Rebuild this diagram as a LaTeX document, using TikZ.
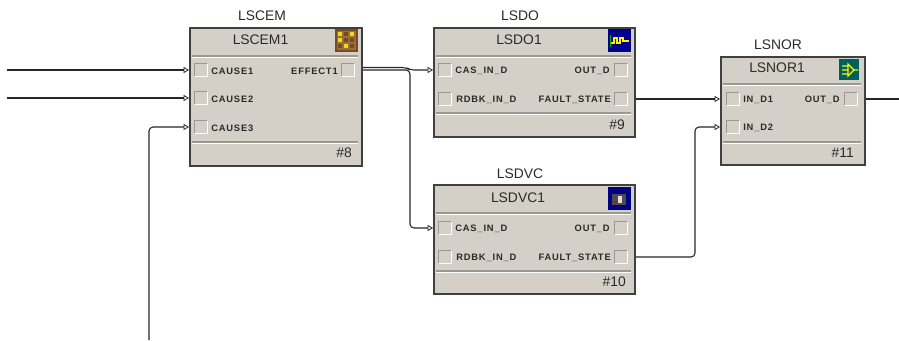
\documentclass[tikz,border=0pt]{standalone}
\usepackage{fontspec}
\setmainfont{Liberation Sans}
\usetikzlibrary{arrows.meta,calc}
\definecolor{panel}{HTML}{D4D0C8}
\definecolor{edgec}{HTML}{404040}
\definecolor{groove}{HTML}{9A9890}
\definecolor{txt}{HTML}{2A2A2A}
\tikzset{
  x=0.75pt,y=-0.75pt,
  blockbox/.style={draw=edgec,line width=1.5pt,fill=panel,inner sep=0pt,anchor=north west},
  typelabel/.style={font=\fontsize{10.4pt}{11pt}\selectfont,text=txt,inner sep=0pt},
  namelabel/.style={font=\fontsize{10.4pt}{11pt}\selectfont,text=txt,inner sep=0pt},
  portlabel/.style={font=\fontsize{7pt}{8pt}\selectfont\addfontfeature{LetterSpace=9}\bfseries,text=txt,inner sep=0pt},
  numlabel/.style={font=\fontsize{10.4pt}{11pt}\selectfont,text=txt,inner sep=0pt,anchor=east},
  portbox/.style={minimum size=9pt,inner sep=0pt,fill=panel},
  wire/.style={draw=black!85,line width=0.8pt,rounded corners=3pt},
  inwire/.style={wire,-{Triangle[open,length=4pt,width=4.5pt,line width=0.6pt]}},
}
% bevelled check box, centred at a named node
\newcommand{\portbevel}[1]{%
  \draw[groove,line width=.8pt] (#1.south west)--(#1.north west)--(#1.north east);
  \draw[white,line width=.8pt] (#1.south west)--(#1.south east)--(#1.north east);}
% groove lines across a block
\newcommand{\groovelines}[3]{%
  \draw[groove,line width=.8pt] (#1+3,#3)--(#2-3,#3);
  \draw[white,line width=.8pt] (#1+3,#3+1.2)--(#2-3,#3+1.2);}
\begin{document}
\begin{tikzpicture}
\useasboundingbox (0,0) rectangle (899,340);
% ---------- blocks
\node[blockbox,minimum width=129pt,minimum height=103.5pt] (lscem) at (189,27) {};
\node[blockbox,minimum width=150.75pt,minimum height=81.75pt] (lsdo) at (433,27) {};
\node[blockbox,minimum width=150.75pt,minimum height=81.75pt] (lsdvc) at (433,184) {};
\node[blockbox,minimum width=108pt,minimum height=81pt] (lsnor) at (720,56) {};
\groovelines{189}{361}{56}\groovelines{189}{361}{142}
\groovelines{433}{634}{56}\groovelines{433}{634}{113}
\groovelines{433}{634}{213}\groovelines{433}{634}{271}
\groovelines{720}{864}{84}\groovelines{720}{864}{142}
% ---------- titles
\node[typelabel] (tcem) at (262,16) {LSCEM};
\node[typelabel] (tdo) at (520,16) {LSDO};
\node[typelabel] (tdvc) at (520,174) {LSDVC};
\node[typelabel] (tnor) at (778,45) {LSNOR};
\node[namelabel] (ncem) at (260.5,40) {LSCEM1};
\node[namelabel] (ndo) at (519,40) {LSDO1};
\node[namelabel] (ndvc) at (518,198) {LSDVC1};
\node[namelabel] (nnor) at (777,68) {LSNOR1};
\node[numlabel] (ncemn) at (352,153) {\#8};
\node[numlabel] (ndon) at (625,125) {\#9};
\node[numlabel] (ndvcn) at (626,282) {\#10};
\node[numlabel] (nnorn) at (854,153) {\#11};
% ---------- ports: LSCEM
\node[portbox] (c1) at (201,70) {};\portbevel{c1}
\node[portbox] (c2) at (201,98) {};\portbevel{c2}
\node[portbox] (c3) at (201,127) {};\portbevel{c3}
\node[portbox] (e1) at (348,70) {};\portbevel{e1}
\node[portlabel,anchor=west] (lc1) at (211,71) {CAUSE1};
\node[portlabel,anchor=west] (lc2) at (211,99) {CAUSE2};
\node[portlabel,anchor=west] (lc3) at (211,128) {CAUSE3};
\node[portlabel,anchor=east] (le1) at (338,71) {EFFECT1};
% ---------- ports: LSDO
\node[portbox] (doa) at (445,70) {};\portbevel{doa}
\node[portbox] (dob) at (445,99) {};\portbevel{dob}
\node[portbox] (doc) at (621,70) {};\portbevel{doc}
\node[portbox] (dod) at (621,99) {};\portbevel{dod}
\node[portlabel,anchor=west] (ldoa) at (455,71) {CAS\_IN\_D};
\node[portlabel,anchor=west] (ldob) at (456,100) {RDBK\_IN\_D};
\node[portlabel,anchor=east] (ldoc) at (610,71) {OUT\_D};
\node[portlabel,anchor=east] (ldod) at (611,100) {FAULT\_STATE};
% ---------- ports: LSDVC
\node[portbox] (vca) at (445,228) {};\portbevel{vca}
\node[portbox] (vcb) at (445,257) {};\portbevel{vcb}
\node[portbox] (vcc) at (621,228) {};\portbevel{vcc}
\node[portbox] (vcd) at (621,257) {};\portbevel{vcd}
\node[portlabel,anchor=west] (lvca) at (455,229) {CAS\_IN\_D};
\node[portlabel,anchor=west] (lvcb) at (456,258) {RDBK\_IN\_D};
\node[portlabel,anchor=east] (lvcc) at (610,229) {OUT\_D};
\node[portlabel,anchor=east] (lvcd) at (611,258) {FAULT\_STATE};
% ---------- ports: LSNOR
\node[portbox] (na) at (733,99) {};\portbevel{na}
\node[portbox] (nb) at (733,127) {};\portbevel{nb}
\node[portbox] (nc) at (851,99) {};\portbevel{nc}
\node[portlabel,anchor=west] (lna) at (743,100) {IN\_D1};
\node[portlabel,anchor=west] (lnb) at (743,128) {IN\_D2};
\node[portlabel,anchor=east] (lnc) at (840,100) {OUT\_D};
% ---------- icons
\fill[brown!60!black] (335,29) rectangle (358,52);
\fill[brown!85!black] (337,31) rectangle (356,50);
\foreach \ix in {338,344,350}\foreach \iy in {32,38,44}{\fill[brown!60!black] (\ix,\iy) rectangle ++(4,4);}
\foreach \ix/\iy in {338/32,350/32,338/38,344/44}{\fill[yellow!90!black] (\ix,\iy) rectangle ++(4,4);}
\fill[blue!55!black] (608,29) rectangle (631,52);
\draw[yellow,line width=.8pt] (611,43)--(614,43)--(614,38)--(617,38)--(617,43)--(620,43)--(620,38)--(623,38)--(623,41)--(629,41);
\draw[green!70!black,line width=.7pt] (610,35)--(610,47);
\fill[blue!50!black] (608,187) rectangle (631,210);
\fill[gray!60!black] (612,194) rectangle (626,205);
\fill[gray!25] (618,196) rectangle (622,203);
\fill[red!80!black] (615,201) rectangle ++(2,2);
\fill[teal!75!black] (839,59) rectangle (859,80);
\draw[yellow,line width=.9pt] (842,66)--(848,66) (842,70)--(848,70) (842,74)--(848,74) (848,64)--(854,70)--(848,76)--cycle (854,70)--(858,70);
% ---------- connectors
\coordinate (f1) at (7,70);
\coordinate (f2) at (7,98);
\coordinate (f3) at (149,340);
\coordinate (f4) at (899,99);
\draw[inwire] (f1) -- (lscem.west |- c1);
\draw[inwire] (f2) -- (lscem.west |- c2);
\draw[inwire] (f3) -- (f3 |- c3) -- (lscem.west |- c3);
\draw[inwire] ($(e1.east -| lscem.east)+(0,-2.5)$) -- (406,67.5) -- (410,70) -- (lsdo.west |- doa);
\draw[inwire] (e1.east -| lscem.east) -- (410,70) -- (410,228) -- (lsdvc.west |- vca);
\draw[inwire] (lsdo.east |- dod) -- (lsnor.west |- na);
\draw[inwire] (lsdvc.east |- vcd) -- (695,257) -- (695,127) -- (lsnor.west |- nb);
\draw[wire] (lsnor.east |- nc) -- (f4);
\end{tikzpicture}
\end{document}
